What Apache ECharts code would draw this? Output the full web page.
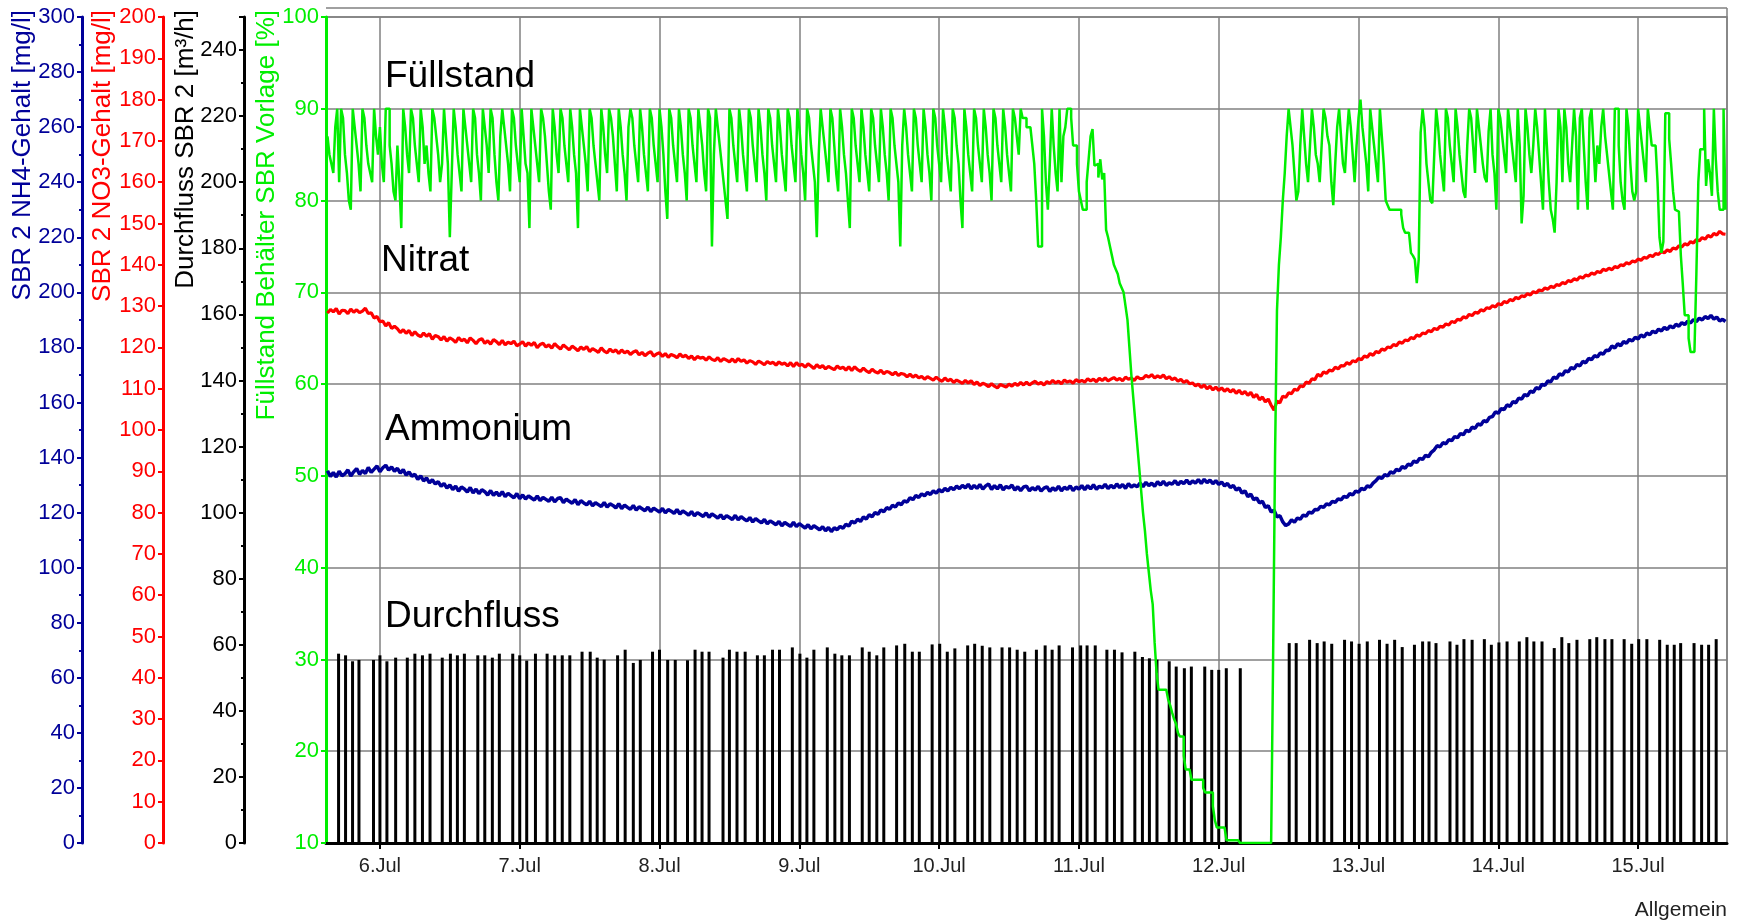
<!DOCTYPE html>
<html>
<head>
<meta charset="utf-8">
<script src="https://cdn.jsdelivr.net/npm/echarts@6/dist/echarts.min.js"></script>
<style>html,body{margin:0;padding:0;background:#fff}#c{width:1740px;height:922px}</style>
</head>
<body>
<div id="c"></div>
<script>
// ---------------- DATA ----------------
// x axis tick labels (one per day)
const dayLabels = ['6.Jul','7.Jul','8.Jul','9.Jul','10.Jul','11.Jul','12.Jul','13.Jul','14.Jul','15.Jul'];
// first sample: 5 Jul 15:00; 240 h shown
const startDate = [2009, 6, 5, 15];
const spanHours = 240;

// Nitrat (SBR 2 NO3-Gehalt, mg/l), samples every 30 min from start
const nitratValues = [
128.3,129.2,128.6,129.4,128.1,129.0,128.9,128.2,129.3,128.5,129.1,128.4,128.8,129.5,128.2,128.4,127.1,127.5,126.2,126.4,
125.2,126.0,124.6,125.1,124.5,123.6,124.3,123.4,124.1,122.9,123.8,123.0,122.6,123.5,122.7,123.3,122.0,122.9,122.6,121.8,
122.6,121.5,122.3,121.9,121.2,122.4,121.6,122.0,121.1,122.3,121.7,120.9,121.8,122.1,121.0,121.6,120.8,121.9,121.4,120.7,
121.7,120.6,121.3,120.9,121.5,120.4,120.8,121.4,120.3,121.1,120.5,121.2,119.9,120.7,121.0,120.1,120.6,119.8,120.9,120.2,
119.6,120.6,120.0,119.4,120.3,119.8,119.2,120.1,119.5,120.2,119.0,119.7,119.3,118.8,119.9,119.1,118.7,119.6,118.9,119.4,
118.5,119.4,118.7,119.1,118.3,118.9,119.2,118.2,118.8,118.0,118.6,119.0,117.9,118.4,118.7,117.8,118.5,117.6,118.3,118.0,
117.5,118.4,117.7,118.1,117.3,117.9,117.0,117.8,117.4,117.6,116.9,117.7,117.1,116.8,117.5,116.6,117.3,116.9,116.5,117.2,
116.4,117.3,116.6,117.0,116.2,116.8,116.5,115.9,116.7,116.3,115.8,116.6,116.1,116.4,115.7,116.5,115.9,116.2,115.5,116.3,
115.4,116.3,115.6,115.9,115.2,116.0,115.5,114.9,115.8,115.1,115.6,114.8,115.4,115.0,114.6,115.5,114.9,115.2,114.5,115.3,
114.4,115.3,114.6,114.2,115.0,114.3,113.9,114.7,114.1,113.8,114.5,113.6,114.2,113.9,113.4,114.0,113.2,113.7,113.5,112.9,
113.5,112.8,113.3,112.6,113.0,112.3,112.9,112.5,112.1,112.8,112.2,111.8,112.6,111.9,112.3,111.5,112.1,111.7,111.3,112.0,
111.4,111.9,111.0,111.6,110.8,111.3,111.0,110.5,111.2,110.6,110.2,111.0,110.7,110.4,111.1,110.6,111.3,110.8,111.5,110.9,
111.6,110.9,111.4,111.8,111.1,111.5,110.9,111.7,111.3,112.0,111.4,111.8,111.2,112.1,111.6,111.9,111.3,112.2,111.7,112.0,
111.6,112.4,111.9,112.3,111.7,112.5,112.0,112.6,111.9,112.3,112.7,112.1,112.5,111.9,112.8,112.3,112.6,112.0,112.9,112.4,
112.5,113.2,112.8,113.4,112.6,113.1,112.7,113.3,112.4,112.9,112.2,112.6,111.8,112.3,111.5,112.0,111.2,111.4,110.7,111.1,
110.3,110.9,110.0,110.6,109.7,110.4,109.6,110.2,109.4,110.0,109.2,109.8,108.9,109.6,108.7,109.3,108.4,109.1,107.9,108.6,
107.3,108.0,106.8,107.5,106.0,104.8,107.0,106.6,108.2,107.9,109.0,108.8,109.9,109.6,110.7,110.5,111.6,111.3,112.4,112.2,
113.5,113.0,114.1,113.7,114.5,114.3,115.2,114.8,115.6,115.5,116.3,115.9,116.8,116.5,117.3,117.0,117.9,117.6,118.5,118.1,
119.0,118.7,119.6,119.3,120.1,119.9,120.7,120.4,121.3,121.0,121.8,121.6,122.4,122.1,123.0,122.7,123.5,123.3,124.1,123.8,
124.6,124.3,125.1,124.9,125.7,125.4,126.3,126.0,126.8,126.6,127.4,127.1,128.0,127.7,128.5,128.3,129.1,128.8,129.6,129.4,
130.1,129.8,130.6,130.3,131.1,130.8,131.6,131.3,132.1,131.8,132.5,132.3,133.0,132.7,133.5,133.2,133.9,133.7,134.4,134.1,
134.8,134.5,135.2,135.0,135.7,135.4,136.2,135.9,136.6,136.3,137.1,136.8,137.5,137.3,138.0,137.7,138.4,138.1,138.9,138.6,
139.2,138.8,139.6,139.3,140.0,139.8,140.5,140.2,140.9,140.7,141.4,141.1,141.8,141.6,142.3,142.0,142.7,142.5,143.2,142.9,
143.6,143.2,144.1,143.8,144.6,144.3,145.1,144.8,145.6,145.3,146.1,145.8,146.6,146.2,147.1,146.7,147.6,147.2,148.1,147.5,
147.4];

// Ammonium (SBR 2 NH4-Gehalt, mg/l), samples every 30 min from start
const ammoniumValues = [
135.2,133.1,134.6,132.9,135.0,133.4,134.1,135.5,133.3,134.8,136.0,133.9,135.3,134.2,136.4,134.6,135.8,136.9,134.9,136.3,
137.2,135.4,136.6,135.0,136.1,134.3,135.6,133.6,134.8,133.2,133.9,132.1,133.3,131.5,132.6,130.8,131.9,130.4,131.2,129.6,
130.6,128.9,130.0,128.4,129.6,127.8,129.3,128.6,127.5,129.1,127.2,128.5,126.9,128.3,127.6,126.4,128.0,126.3,127.4,126.1,
127.6,125.8,127.0,126.2,125.4,126.9,125.1,126.4,124.9,126.1,125.3,124.6,126.0,124.4,125.5,124.8,124.1,125.6,123.9,125.1,
125.4,123.6,124.9,124.1,123.4,124.7,122.9,124.3,123.5,122.8,124.1,122.5,123.6,122.9,122.2,123.7,122.0,123.2,122.6,121.7,
123.2,121.5,122.7,121.9,121.2,122.6,120.9,122.1,121.4,120.7,122.0,120.4,121.6,120.9,120.2,121.5,119.9,121.1,120.5,119.7,
121.1,119.5,120.6,119.9,119.1,120.4,118.8,120.0,119.3,118.6,119.9,118.3,119.5,118.8,118.0,119.2,117.7,118.9,118.2,117.5,
119.0,117.4,118.5,117.7,117.0,118.2,116.6,117.8,117.0,116.3,117.5,115.9,117.0,116.3,115.6,116.8,115.2,116.4,115.7,115.0,
116.5,114.9,116.0,115.2,114.4,115.6,114.1,115.2,114.5,113.7,114.9,113.4,114.6,113.1,114.5,113.8,115.0,114.3,115.8,115.1,
116.9,116.2,117.6,116.8,118.4,117.7,119.2,118.5,120.0,119.4,121.0,120.3,121.8,121.2,122.7,122.0,123.5,122.9,124.3,123.8,
125.4,124.7,126.2,125.5,126.8,126.1,127.3,126.6,127.9,127.1,128.3,127.5,128.8,127.9,129.2,128.3,129.6,128.7,129.9,129.0,
130.3,128.6,129.9,128.8,130.2,128.5,129.7,130.4,128.4,129.8,128.6,130.1,128.3,129.5,128.9,130.0,128.2,129.4,128.0,129.3,
129.6,127.9,129.1,128.2,129.5,127.8,128.9,129.4,127.7,129.0,128.1,129.6,127.9,129.2,128.4,129.7,128.0,129.3,128.5,129.8,
128.3,129.8,128.6,130.1,128.5,129.6,129.0,130.3,128.7,129.9,128.9,130.4,129.1,130.2,128.8,130.5,129.3,130.0,129.4,130.7,
129.4,131.0,129.8,130.7,129.6,131.2,130.0,131.4,129.9,130.8,130.3,131.6,130.1,131.3,130.5,131.8,130.4,131.5,130.7,132.0,
130.6,132.1,130.9,131.8,130.5,131.6,130.2,131.1,129.7,130.6,129.1,129.9,128.2,129.0,127.1,127.9,125.8,126.7,124.7,125.3,
123.5,124.1,121.9,122.5,120.2,120.9,118.4,118.9,116.6,115.3,115.9,117.4,116.5,118.0,117.6,119.1,118.7,120.2,119.8,121.1,
121.0,122.3,121.9,123.2,122.8,124.1,123.7,125.0,124.6,125.9,125.5,126.9,126.4,127.8,127.4,128.8,128.3,129.7,129.3,130.7,
131.6,132.9,132.4,133.8,133.3,134.8,134.3,135.7,135.2,136.7,136.1,137.6,137.2,138.7,138.2,139.7,139.3,140.8,140.3,141.9,
142.8,144.3,143.9,145.4,145.0,146.5,146.1,147.6,147.2,148.7,148.3,149.9,149.4,151.0,150.6,152.2,151.8,153.4,153.0,154.6,
154.9,156.6,156.1,157.8,157.4,159.1,158.6,160.3,159.9,161.6,161.2,162.9,162.4,164.1,163.7,165.4,164.9,166.6,166.2,167.8,
167.5,169.2,168.7,170.4,169.9,171.5,171.1,172.7,172.2,173.8,173.3,174.9,174.4,176.0,175.5,177.0,176.5,178.0,177.5,179.0,
178.9,180.5,179.8,181.3,180.6,182.1,181.5,182.9,182.3,183.7,183.1,184.5,183.8,185.2,184.6,185.9,185.3,186.6,186.0,187.3,
186.5,187.8,187.1,188.4,187.7,189.0,188.3,189.5,188.9,190.1,189.4,190.6,190.0,191.2,190.5,191.6,190.3,191.0,189.6,190.2,
189.4];

// Füllstand Behälter SBR Vorlage (%), samples every 20 min from start
const fuellstandValues = [
87,85,84,83,88,90, 82,90,89,85,83,80, 79,90,88,86,84,81, 90,89,86,84,83,82,
90,87,85,88,84,82, 90,90,86,84,81,80, 86,82,77,90,88,85, 83,90,89,86,84,82,
90,88,84,86,83,81, 90,89,87,85,82,84, 90,87,84,76,83,90, 88,85,83,81,90,88,
86,84,82,90,89,85, 83,80,90,88,86,83, 90,89,85,82,80,87, 90,88,86,84,81,90,
89,86,84,82,90,87, 84,83,77,90,88,86, 84,82,90,89,87,84, 81,79,90,88,85,83,
90,89,86,84,82,90, 88,85,83,77,90,88, 86,84,81,90,89,86, 84,82,80,90,88,85,
83,90,89,87,84,81, 90,88,85,83,80,88, 90,89,86,84,82,90, 88,85,83,81,90,89,
86,84,82,90,88,85, 81,78,90,89,86,84, 82,90,88,85,83,80, 90,89,86,84,82,90,
88,86,83,81,90,89, 75,85,90,88,86,84, 82,80,78,90,89,86, 84,82,90,88,85,83,
81,90,89,86,84,82, 90,88,85,83,80,90, 89,86,84,82,90,88, 85,83,81,90,89,86,
84,82,90,88,85,83, 80,90,89,86,84,82, 76,85,90,88,86,84, 82,90,89,86,83,81,
90,88,85,83,80,77, 90,89,86,84,82,90, 88,85,83,81,90,89, 86,84,82,90,88,85,
83,80,90,89,86,84, 82,75,86,90,88,85, 83,81,90,89,86,84, 82,90,88,85,83,80,
90,89,86,84,82,90, 88,85,83,81,90,89, 86,84,80,77,90,88, 85,83,81,90,89,86,
84,82,90,88,85,83, 80,90,89,86,84,82, 90,88,85,83,81,90, 89,87,85,
90,89,89,88,88,88,86,84,80,75,75,90,87,82,79,84,90,86,83,81,90,82,87,88,90,90,89,86,86,84,81,80,79,
79,82,84.5,87,87.8,83.8,84,82.5,84.5,82.3,83,
76.8,76,75,74,73,72.5,72,71,70.5,70,
68.5,67,64,61,58.5,56,53.5,51,48.5,46,
44,41.5,39.5,37.5,36,31.8,28.5,26.7,26.7,26.7,
26.7,26.7,25.6,25,24.2,23.5,23,22,21.6,21.6,
19.5,18,18,18,16.9,16.9,16.9,16.9,16.9,16.9,
16,15.5,15.5,15.5,15.5,14,12.5,11.7,11.7,11.7,
11.7,11.7,10.3,10.3,10.3,10.3,10.3,10.3,10.3,
10,10,10,10,10,10,10,10,10,10,10,10,10,10,10,10,10,
30,52,68,73,76,80,83,
87,90,88,86,83,80,81,86,90,87,
84,82,86,90,88,85,84,82,86,90,
89,87,86,82,79.5,84,88,90,87,84,
83,87,90,88,85,82,86,89,91,88,
86,84,81,90,88,86,84,82,90,87,
84,80,79.5,79,79,79,79,79,79,78.5,
77,76.5,76.5,76.5,74.3,74,73.6,71,73.6,87.4,
90,88,84,82,80,79.7,85,90,88,85,
83,81,90,89,86,84,82,90,88,85,
83,81,80.3,86,90,89,86,83,90,88,
86,84,82.5,82,87.5,90,85,83,79,90,
89,87,85,83,90,88,86,84,82,90,
86,77.5,80.5,90,88,85,83,86,90,88,
85,82,79,90,86,82,79,78,76.5,82,
90,88,82,90,88,84,82,86,90,87,
79,89,90,86,82,79,89,90,86,82,
86,84,88,90,87,85,83,81,79,90,
90,86,82,80,79,90,88,84,81,80,
81,90,88,86,84,82,90,88,86,86,
86,82,76,74.3,75.5,89.5,89.5,86.7,84,81,
79,78.8,78.7,74,70.9,67.5,67.5,65,63.5,63.5,
63.5,72,82,85.6,85.6,90,81.6,84.5,83,80.5,
90,84.5,81,79,79,90,79];

// Durchfluss SBR 2 (m³/h): pump pulses, hours after start and peak value
const flowHours = [
1.9,3.1,4.3,5.4,7.9,9.0,10.2,11.7,13.7,15.0,16.3,17.6,19.7,21.1,22.3,23.5,
25.8,27.0,28.3,29.5,31.8,33.0,34.2,35.7,37.7,39.0,40.3,41.6,43.7,45.1,46.3,47.5,
49.8,51.1,52.5,53.7,55.8,57.0,58.4,59.7,61.8,63.1,64.3,65.5,67.9,69.0,70.3,71.7,
73.8,75.0,76.4,77.6,79.8,81.1,82.3,83.5,85.8,87.1,88.3,89.6,91.8,93.0,94.3,95.5,
97.7,99.1,100.4,101.6,103.8,105.1,106.4,107.7,109.9,111.1,112.4,113.7,115.8,117.1,118.4,119.7,
121.7,123.2,124.4,125.6,127.9,129.3,130.4,131.8,133.8,135.1,136.4,138.6,139.9,141.1,142.4,
144.5,145.7,147.1,148.3,150.6,151.8,153.0,154.3,156.7,
165.1,166.3,168.6,169.9,171.1,172.4,174.6,175.8,177.1,178.5,180.6,181.9,183.2,184.5,186.6,188.0,189.1,190.3,
192.7,193.9,195.1,196.5,198.6,199.8,201.1,202.5,204.6,205.9,207.1,208.5,210.6,211.9,213.1,214.5,
216.7,217.9,219.3,220.5,222.6,223.9,225.1,226.5,228.7,230.0,231.2,232.3,234.6,235.9,237.1,238.4];
const flowValues = [
57.3,56.8,55.0,55.4,55.4,56.8,55.0,56.1,56.1,57.3,56.8,57.3,56.1,57.3,56.8,57.3,
56.8,56.8,56.1,57.3,57.3,56.8,55.2,57.3,57.3,56.8,56.8,56.8,57.9,57.9,56.1,55.5,
56.8,58.5,54.5,55.4,57.9,58.5,55.4,55.4,55.3,58.5,57.9,57.9,56.1,58.5,57.9,57.9,
56.8,56.8,58.5,58.5,59.2,57.3,56.1,58.5,59.2,57.3,56.8,56.8,59.2,57.9,56.8,59.2,
59.8,60.3,57.9,57.9,60.1,60.3,57.9,58.9,59.8,60.3,59.7,59.2,59.2,59.2,58.5,57.9,
58.5,59.8,58.5,59.8,59.2,59.8,59.8,59.8,58.5,58.5,57.7,57.9,56.3,55.9,55.5,
55.0,53.4,52.9,53.4,53.4,52.4,52.4,52.9,52.9,
60.5,60.5,61.5,60.5,61.0,60.3,61.5,61.0,60.3,61.0,61.5,60.3,61.5,59.3,60.0,61.0,61.0,60.5,
61.0,60.0,61.7,61.5,61.7,60.0,60.7,61.0,61.0,62.3,61.0,61.0,59.0,62.3,60.5,61.5,
61.7,62.3,61.7,61.7,61.7,60.3,61.7,61.7,61.5,60.0,60.0,60.5,60.5,60.0,60.0,61.7];

// ---------------- CHART ----------------
const HOUR = 3600000;
const t0 = new Date(startDate[0], startDate[1], startDate[2], startDate[3], 0, 0).getTime();
const tEnd = t0 + spanHours * HOUR;
const nitratData = nitratValues.map((v, i) => [t0 + i * HOUR / 2, v]);
const ammoniumData = ammoniumValues.map((v, i) => [t0 + i * HOUR / 2, v]);
const fuellData = fuellstandValues.map((v, i) => [t0 + i * HOUR / 3, v]);
const flowData = flowHours.map((h, k) => [t0 + h * HOUR, flowValues[k]]);

const GREEN = '#00ee00', RED = '#ff0000', BLUE = '#000099', BLACK = '#000000', GRID = '#808080';
const sans = "'Liberation Sans',Arial,sans-serif";

function yAxis(color, offset, min, max, interval, minor) {
  return {
    type: 'value', position: 'left', offset: offset, min: min, max: max, interval: interval,
    axisLine: { show: true, onZero: false, lineStyle: { color: color, width: 3 } },
    axisTick: { show: true, inside: false, length: 5, lineStyle: { color: color, width: 2 } },
    minorTick: { show: !!minor, splitNumber: 2, length: 3, lineStyle: { color: color, width: 2 } },
    axisLabel: { color: color, fontFamily: sans, fontSize: 22, margin: 7, showMaxLabel: max % interval === 0 },
    splitLine: { show: false }
  };
}
const yAxes = [
  yAxis(GREEN, 0, 10, 100, 10, false),
  yAxis(BLACK, 82, 0, 250, 20, true),
  yAxis(RED, 163, 0, 200, 10, false),
  yAxis(BLUE, 244, 0, 300, 20, true)
];
yAxes[0].splitLine = { show: true, lineStyle: { color: GRID, width: 1.5 } };

function nameText(text, x, color) {
  return { type: 'text', x: x, y: 10, rotation: Math.PI / 2, z: 100,
    style: { text: text, fill: color, fontSize: 26, fontFamily: sans, align: 'right', verticalAlign: 'middle' } };
}
function annot(text, x, y) {
  return { type: 'text', x: x, y: y, z: 100,
    style: { text: text, fill: '#000', fontSize: 37, fontFamily: sans, align: 'left', verticalAlign: 'middle' } };
}

const chart = echarts.init(document.getElementById('c'));
chart.setOption({
  animation: false,
  backgroundColor: '#ffffff',
  grid: { left: 326, right: 13, top: 17, bottom: 79, show: true, borderColor: GRID, borderWidth: 1.5 },
  xAxis: {
    type: 'time', min: t0, max: tEnd, minInterval: 24 * HOUR, maxInterval: 24 * HOUR,
    axisLine: { show: true, onZero: false, lineStyle: { color: BLACK, width: 3 } },
    axisTick: { show: true, length: 6, lineStyle: { color: BLACK, width: 2 } },
    axisLabel: {
      color: '#222', fontFamily: sans, fontSize: 20, margin: 13, showMinLabel: false, showMaxLabel: false,
      formatter: function (v) {
        const d = new Date(v);
        if (d.getHours() !== 0) return '';
        const idx = d.getDate() - 6;
        return dayLabels[idx] || '';
      }
    },
    splitLine: { show: true, lineStyle: { color: GRID, width: 1.5 } }
  },
  yAxis: yAxes,
  series: [
    { name: 'Durchfluss', type: 'bar', yAxisIndex: 1, data: flowData, barWidth: 3,
      itemStyle: { color: BLACK }, z: 2, silent: true },
    { name: 'Nitrat', type: 'line', yAxisIndex: 2, data: nitratData, showSymbol: false, symbol: 'none',
      lineStyle: { color: RED, width: 3.2 }, itemStyle: { color: RED }, z: 3, silent: true },
    { name: 'Ammonium', type: 'line', yAxisIndex: 3, data: ammoniumData, showSymbol: false, symbol: 'none',
      lineStyle: { color: BLUE, width: 3.5 }, itemStyle: { color: BLUE }, z: 3, silent: true },
    { name: 'Füllstand', type: 'line', yAxisIndex: 0, data: fuellData, showSymbol: false, symbol: 'none',
      step: 'end', lineStyle: { color: GREEN, width: 2.5 }, itemStyle: { color: GREEN }, z: 4, silent: true }
  ],
  graphic: [
    { type: 'line', z: 1, shape: { x1: 326, y1: 8, x2: 1727, y2: 8 }, style: { stroke: GRID, lineWidth: 1.5 } },
    { type: 'line', z: 1, shape: { x1: 1727, y1: 8, x2: 1727, y2: 17 }, style: { stroke: GRID, lineWidth: 1.5 } },
    nameText('SBR 2 NH4-Gehalt [mg/l]', 23, BLUE),
    nameText('SBR 2 NO3-Gehalt [mg/l]', 103, RED),
    nameText('Durchfluss SBR 2 [m³/h]', 186, BLACK),
    nameText('Füllstand Behälter SBR Vorlage [%]', 267, GREEN),
    annot('Füllstand', 385, 77),
    annot('Nitrat', 381, 261),
    annot('Ammonium', 385, 430),
    annot('Durchfluss', 385, 617),
    { type: 'text', x: 1727, y: 910, z: 100,
      style: { text: 'Allgemein', fill: '#222', fontSize: 21, fontFamily: sans, align: 'right', verticalAlign: 'middle' } }
  ]
});
</script>
</body>
</html>
